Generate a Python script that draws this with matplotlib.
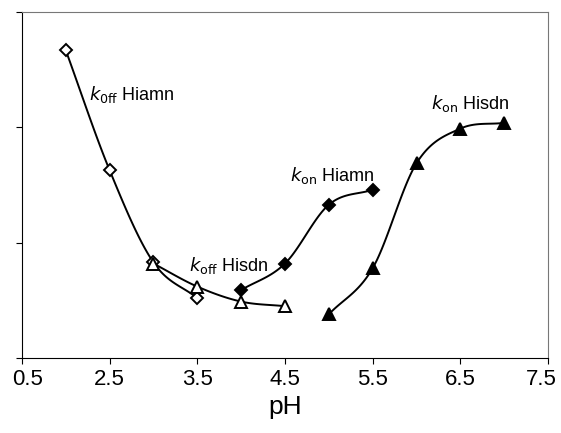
import numpy as np
import matplotlib
matplotlib.use("Agg")
import matplotlib.pyplot as plt
import matplotlib.transforms as mtransforms

plt.rcParams['font.family'] = ['Liberation Sans', 'DejaVu Sans']

# values (y axis has no labels, units are tick spacings)
ph_koff_hiamn = [2.0, 2.5, 3.0, 3.5]
koff_hiamn = [2.67, 1.63, 0.83, 0.52]

ph_koff_hisdn = [3.0, 3.5, 4.0, 4.5]
koff_hisdn = [0.82, 0.62, 0.49, 0.45]

ph_kon_hiamn = [4.0, 4.5, 5.0, 5.5]
kon_hiamn = [0.59, 0.82, 1.33, 1.46]

ph_kon_hisdn = [5.0, 5.5, 6.0, 6.5, 7.0]
kon_hisdn = [0.38, 0.78, 1.69, 1.99, 2.04]

xticks = [1.5, 2.5, 3.5, 4.5, 5.5, 6.5, 7.5]
xticklabels = ["0.5", "2.5", "3.5", "4.5", "5.5", "6.5", "7.5"]


def smooth(x, y, n=30):
    # catmull-rom through the points, like the smoothed line option in excel
    x = np.asarray(x, float)
    y = np.asarray(y, float)
    px = np.concatenate([[2 * x[0] - x[1]], x, [2 * x[-1] - x[-2]]])
    py = np.concatenate([[2 * y[0] - y[1]], y, [2 * y[-1] - y[-2]]])
    t = np.linspace(0, 1, n)
    xs, ys = [], []
    for i in range(1, len(px) - 2):
        for p, out in ((px, xs), (py, ys)):
            p0, p1, p2, p3 = p[i - 1], p[i], p[i + 1], p[i + 2]
            out.extend(0.5 * (2 * p1 + (-p0 + p2) * t
                              + (2 * p0 - 5 * p1 + 4 * p2 - p3) * t ** 2
                              + (-p0 + 3 * p1 - 3 * p2 + p3) * t ** 3))
    return xs, ys


fig, ax = plt.subplots(figsize=(5.61, 4.33), dpi=100)
fig.subplots_adjust(left=0.039, right=0.977, top=0.972, bottom=0.173)

series = [
    (ph_koff_hiamn, koff_hiamn, 'D', 'white', 6),
    (ph_koff_hisdn, koff_hisdn, '^', 'white', 8),
    (ph_kon_hiamn, kon_hiamn, 'D', 'black', 6),
    (ph_kon_hisdn, kon_hisdn, '^', 'black', 9),
]
for x, y, m, fc, ms in series:
    sx, sy = smooth(x, y)
    ax.plot(sx, sy, color='black', lw=1.4, zorder=2)
    ax.plot(x, y, linestyle='none', marker=m, markersize=ms,
            markerfacecolor=fc, markeredgecolor='black', markeredgewidth=1.4, zorder=3)

ax.text(2.27, 2.29, r'$\mathit{k}_{\mathrm{0ff}}$ Hiamn', fontsize=13, va='center')
ax.text(3.41, 0.80, r'$\mathit{k}_{\mathrm{off}}$ Hisdn', fontsize=13, va='center')
ax.text(4.56, 1.58, r'$\mathit{k}_{\mathrm{on}}$ Hiamn', fontsize=13, va='center')
ax.text(6.17, 2.21, r'$\mathit{k}_{\mathrm{on}}$ Hisdn', fontsize=13, va='center')

ax.set_xlim(1.5, 7.5)
ax.set_ylim(0, 3)
ax.set_xticks(xticks)
ax.set_xticklabels(xticklabels, fontsize=16)
ax.set_yticks([0, 1, 2, 3])
ax.set_yticklabels([])
ax.tick_params(direction='out', length=4, width=0.8)
ax.set_xlabel('pH', fontsize=19)
for s in ['top', 'right']:
    ax.spines[s].set_color('#777777')

# end labels sit a little inside, as in the original
labels = ax.get_xticklabels()
labels[0].set_transform(labels[0].get_transform() + mtransforms.ScaledTranslation(0.06, 0, fig.dpi_scale_trans))
labels[-1].set_transform(labels[-1].get_transform() + mtransforms.ScaledTranslation(-0.07, 0, fig.dpi_scale_trans))

plt.savefig('out.png')
